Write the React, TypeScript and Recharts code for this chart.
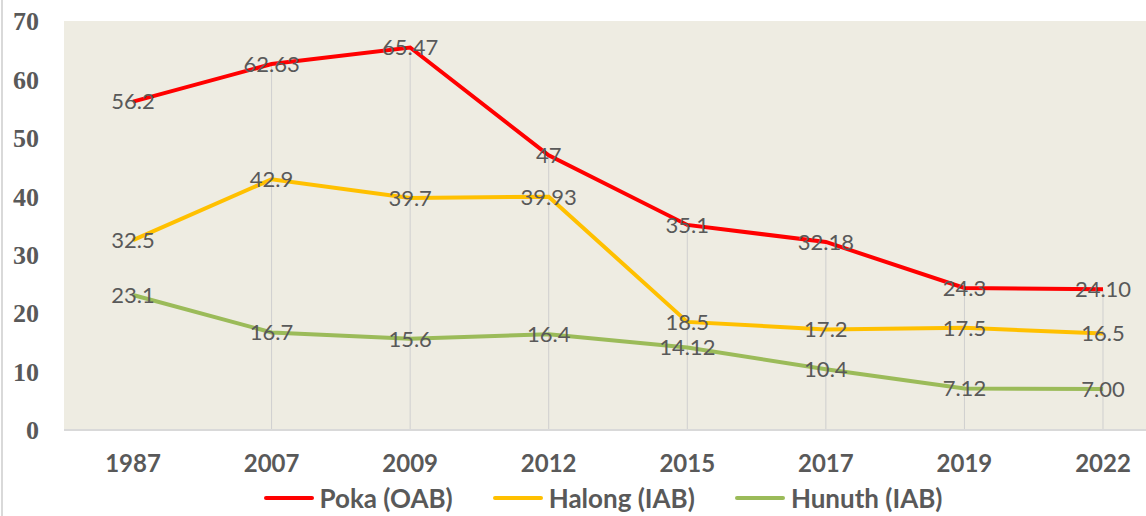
import { LineChart, Line, XAxis, YAxis, CartesianGrid, LabelList, Legend, ReferenceLine } from 'recharts'

const years = ['1987', '2007', '2009', '2012', '2015', '2017', '2019', '2022']
const poka = [56.2, 62.63, 65.47, 47, 35.1, 32.18, 24.3, 24.1]
const halong = [32.5, 42.9, 39.7, 39.93, 18.5, 17.2, 17.5, 16.5]
const hunuth = [23.1, 16.7, 15.6, 16.4, 14.12, 10.4, 7.12, 7.0]
const pokaLabels = ['56.2', '62.63', '65.47', '47', '35.1', '32.18', '24.3', '24.10']
const hunuthLabels = ['23.1', '16.7', '15.6', '16.4', '14.12', '10.4', '7.12', '7.00']
const yTicks = [0, 10, 20, 30, 40, 50, 60, 70]

const series = [
  { key: 'poka', name: 'Poka (OAB)', color: '#FF0000' },
  { key: 'halong', name: 'Halong (IAB)', color: '#FFC000' },
  { key: 'hunuth', name: 'Hunuth (IAB)', color: '#9BBB59' },
]

const data = years.map((year, i) => ({
  year,
  poka: poka[i],
  halong: halong[i],
  hunuth: hunuth[i],
  pokaLabel: pokaLabels[i],
  halongLabel: String(halong[i]),
  hunuthLabel: hunuthLabels[i],
}))

const gray = '#595959'

function LegendContent() {
  return (
    <div
      style={{
        width: 1180,
        height: 36,
        boxSizing: 'border-box',
        paddingLeft: 26,
        display: 'flex',
        justifyContent: 'center',
        alignItems: 'center',
        fontFamily: 'Lato, sans-serif',
        fontWeight: 700,
        fontSize: 26,
        color: gray,
      }}
    >
      {series.map((s) => (
        <div key={s.key} style={{ display: 'flex', alignItems: 'center', margin: '0 20px' }}>
          <span
            style={{
              display: 'inline-block',
              width: 50,
              height: 4,
              borderRadius: 2,
              background: s.color,
              marginRight: 6,
            }}
          />
          {s.name}
        </div>
      ))}
    </div>
  )
}

export default function App() {
  return (
    <div
      style={{
        position: 'fixed',
        top: 0,
        left: 0,
        width: 1146,
        height: 516,
        overflow: 'hidden',
        background: '#fff',
      }}
    >
      <div style={{ position: 'absolute', left: 1, top: 0, width: 2, height: 516, background: '#d9d9d9' }} />
      <LineChart width={1180} height={516} data={data} margin={{ top: 21, right: 8, bottom: 0, left: 0 }}>
        <CartesianGrid fill="#EEECE2" horizontal={false} vertical={false} />
        <XAxis
          dataKey="year"
          padding={{ left: 69, right: 69 }}
          height={50}
          tickLine={false}
          tickSize={0}
          tickMargin={25}
          axisLine={{ stroke: '#d9d9d9', strokeWidth: 2 }}
          tick={{ fill: gray, fontFamily: 'Lato, sans-serif', fontWeight: 700, fontSize: 24 }}
        />
        <YAxis
          domain={[0, 70]}
          ticks={yTicks}
          width={64}
          axisLine={false}
          tickLine={false}
          tickSize={0}
          tickMargin={25}
          tick={{ fill: gray, fontFamily: '"Liberation Serif", serif', fontWeight: 700, fontSize: 26 }}
        />
        {years.map((year, i) => (
          <ReferenceLine
            key={year}
            segment={[
              { x: year, y: 0 },
              { x: year, y: poka[i] },
            ]}
            stroke="#cfcfcf"
            strokeWidth={1}
          />
        ))}
        <Legend verticalAlign="bottom" wrapperStyle={{ left: 0, width: 1180 }} content={<LegendContent />} />
        {series.map((s) => (
          <Line
            key={s.key}
            type="linear"
            dataKey={s.key}
            name={s.name}
            stroke={s.color}
            strokeWidth={4}
            dot={false}
            activeDot={false}
            isAnimationActive={false}
          >
            <LabelList
              dataKey={`${s.key}Label`}
              position="center"
              fill={gray}
              fontFamily="Lato, sans-serif"
              fontSize={22}
            />
          </Line>
        ))}
      </LineChart>
    </div>
  )
}
